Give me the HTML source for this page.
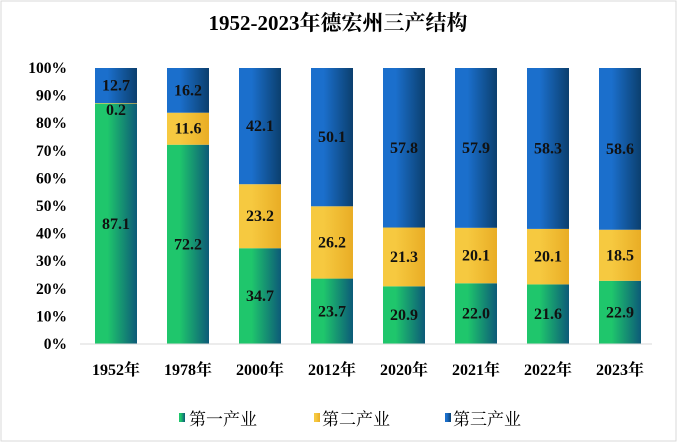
<!DOCTYPE html>
<html><head><meta charset="utf-8"><style>
body{margin:0;background:#fff;}
svg text{font-family:"Liberation Serif","Noto Serif CJK SC",serif;}
</style></head><body>
<svg width="677" height="442">
<defs>
<linearGradient id="g1" x1="0" x2="1"><stop offset="0.3" stop-color="#1fc66c"/><stop offset="1" stop-color="#0c5a78"/></linearGradient>
<linearGradient id="g2" x1="0" x2="1"><stop offset="0.3" stop-color="#f6c940"/><stop offset="1" stop-color="#e9ad25"/></linearGradient>
<linearGradient id="g3" x1="0" x2="1"><stop offset="0.3" stop-color="#1b6fcc"/><stop offset="1" stop-color="#0b3f6e"/></linearGradient>
</defs>
<rect x="1" y="1" width="675" height="440" fill="#fff" stroke="#d9d9d9"/>
<text x="338" y="30" text-anchor="middle" font-size="21" font-weight="bold">1952-2023年德宏州三产结构</text>
<g id="yaxis"></g><g id="bars"></g><g id="xaxis"></g>
<line x1="80" y1="344" x2="652" y2="344" stroke="#d9d9d9"/>
<g>
<rect x="179" y="413" width="6" height="9" fill="url(#g1)"/>
<text x="189" y="425" font-size="17">第一产业</text>
<rect x="314" y="413" width="6" height="9" fill="url(#g2)"/>
<text x="322" y="425" font-size="17">第二产业</text>
<rect x="445" y="413" width="6" height="9" fill="url(#g3)"/>
<text x="453" y="425" font-size="17">第三产业</text>
</g>
</svg>
<script>
const categories=["1952年","1978年","2000年","2012年","2020年","2021年","2022年","2023年"];
const primary=[87.1,72.2,34.7,23.7,20.9,22.0,21.6,22.9];
const secondary=[0.2,11.6,23.2,26.2,21.3,20.1,20.1,18.5];
const tertiary=[12.7,16.2,42.1,50.1,57.8,57.9,58.3,58.6];
const yTicks=[0,10,20,30,40,50,60,70,80,90,100];
const NS="http://www.w3.org/2000/svg";
const x0=80,bw=72,barW=42,yTop=68,yBot=344;
const y=v=>yBot-(yBot-yTop)*v/100;
const xc=i=>x0+bw*i+bw/2;
function mk(tag,attrs,parent,txt){const e=document.createElementNS(NS,tag);for(const k in attrs)e.setAttribute(k,attrs[k]);if(txt!==undefined)e.textContent=txt;parent.appendChild(e);return e;}
const ya=document.getElementById('yaxis'),ba=document.getElementById('bars'),xa=document.getElementById('xaxis');
yTicks.forEach(t=>{const e=mk('text',{x:67,y:y(t)+5,'text-anchor':'end','font-size':15.5,'font-weight':'bold'},ya,t+'%');

});
const series=[[primary,'g1','primary'],[secondary,'g2','secondary'],[tertiary,'g3','tertiary']];
categories.forEach((c,i)=>{
 let tot=primary[i]+secondary[i]+tertiary[i],acc=0;
 series.forEach(([arr,g,n])=>{
  const v=arr[i]/tot*100,y1=y(acc+v),y2=y(acc);
  const r=mk('rect',{x:xc(i)-barW/2,y:y1,width:barW,height:y2-y1,fill:'url(#'+g+')'},ba);
  
  
  let ly=(y1+y2)/2+5;
  if(arr[i]<1) ly=y1+12;
  const t=mk('text',{x:xc(i),y:ly,'text-anchor':'middle','font-size':16,'font-weight':'bold',fill:'#111'},ba,arr[i].toFixed(1));
  
  
  acc+=v;
 });
 const xl=mk('text',{x:xc(i),y:375,'text-anchor':'middle','font-size':16,'font-weight':'bold'},xa,c);
 
 
});
</script>
</body></html>
